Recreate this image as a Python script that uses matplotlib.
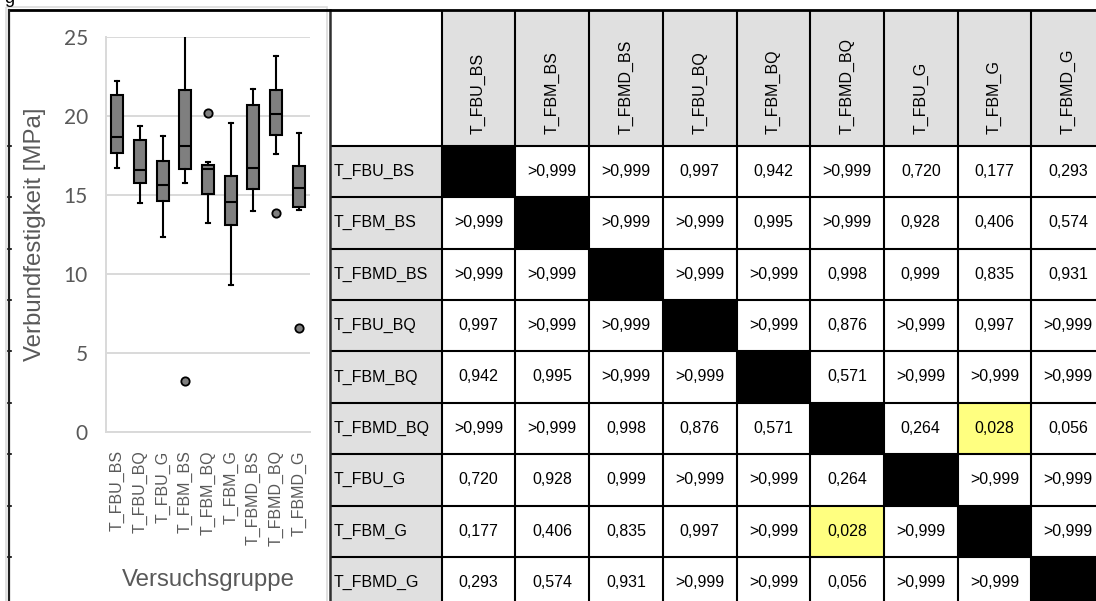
import matplotlib.pyplot as plt
from matplotlib.patches import Rectangle

W, H = 1096, 601

# Bond strength per test group (box plot statistics, MPa)
groups = ['T_FBU_BS', 'T_FBU_BQ', 'T_FBU_G', 'T_FBM_BS', 'T_FBM_BQ', 'T_FBM_G',
          'T_FBMD_BS', 'T_FBMD_BQ', 'T_FBMD_G']
whis_lo = [16.71, 14.53, 12.36, 15.78, 13.26, 9.31, 14.00, 17.60, 14.07]
q1 = [17.64, 15.78, 14.64, 16.65, 15.06, 13.09, 15.36, 18.81, 14.28]
median = [18.66, 16.59, 15.63, 18.09, 16.65, 14.55, 16.69, 20.16, 15.42]
q3 = [21.35, 18.51, 17.16, 21.62, 16.90, 16.23, 20.73, 21.64, 16.82]
whis_hi = [22.21, 19.36, 18.72, 25.22, 17.11, 19.55, 21.71, 23.78, 18.91]
outliers = [[], [], [], [3.24], [20.2], [], [], [13.9], [6.59]]

# Pairwise comparison table (p-values), diagonal left empty
pairs = ['T_FBU_BS', 'T_FBM_BS', 'T_FBMD_BS', 'T_FBU_BQ', 'T_FBM_BQ',
         'T_FBMD_BQ', 'T_FBU_G', 'T_FBM_G', 'T_FBMD_G']
p_values = [
    [None, '>0,999', '>0,999', '0,997', '0,942', '>0,999', '0,720', '0,177', '0,293'],
    ['>0,999', None, '>0,999', '>0,999', '0,995', '>0,999', '0,928', '0,406', '0,574'],
    ['>0,999', '>0,999', None, '>0,999', '>0,999', '0,998', '0,999', '0,835', '0,931'],
    ['0,997', '>0,999', '>0,999', None, '>0,999', '0,876', '>0,999', '0,997', '>0,999'],
    ['0,942', '0,995', '>0,999', '>0,999', None, '0,571', '>0,999', '>0,999', '>0,999'],
    ['>0,999', '>0,999', '0,998', '0,876', '0,571', None, '0,264', '0,028', '0,056'],
    ['0,720', '0,928', '0,999', '>0,999', '>0,999', '0,264', None, '>0,999', '>0,999'],
    ['0,177', '0,406', '0,835', '0,997', '>0,999', '0,028', '>0,999', None, '>0,999'],
    ['0,293', '0,574', '0,931', '>0,999', '>0,999', '0,056', '>0,999', '>0,999', None],
]
alpha = 0.05

grey_txt = '#595959'
grid_col = '#d9d9d9'
hdr_col = '#e0e0e0'
sig_col = '#ffff80'
sans = ['Liberation Sans', 'DejaVu Sans']

fig = plt.figure(figsize=(W / 100, H / 100), dpi=100)

# background layer in pixel coordinates: frames and the table
bg = fig.add_axes([0, 0, 1, 1])
bg.set_xlim(0, W)
bg.set_ylim(H, 0)
bg.axis('off')

# caption line above, only the descender of its first letter shows
bg.text(4, 3, 'g', fontsize=13, family=sans, va='baseline', ha='left', clip_on=True)

# picture frame of the chart
bg.add_patch(Rectangle((5.5, 7), 321.5, 600, fill=False, ec='#dcdcdc', lw=1.2))

x_tab, x_hdr, col_w = 330, 441.7, 73.7
y_top, y_hdr, row_h = 10, 145.7, 51.4
n = len(pairs)

bg.add_patch(Rectangle((x_hdr, y_top), W - x_hdr, y_hdr - y_top, fc=hdr_col, ec='none'))
bg.add_patch(Rectangle((x_tab, y_hdr), x_hdr - x_tab, H - y_hdr, fc=hdr_col, ec='none'))

for i in range(n):
    for j in range(n):
        val = p_values[i][j]
        if val is None:
            fc = 'black'
        elif not val.startswith('>') and float(val.replace(',', '.')) < alpha:
            fc = sig_col
        else:
            fc = 'white'
        x = x_hdr + j * col_w
        y = y_hdr + i * row_h
        bg.add_patch(Rectangle((x, y), col_w, row_h, fc=fc, ec='none'))
        if val is not None:
            bg.text(x + col_w / 2, y + row_h / 2, val, ha='center', va='center',
                    fontsize=11.5, family=sans, color='black')

for j, name in enumerate(pairs):
    bg.text(x_hdr + (j + 0.5) * col_w, 134, name, rotation=90, ha='center',
            va='bottom', fontsize=11.5, family=sans)
for i, name in enumerate(pairs):
    bg.text(333.5, y_hdr + (i + 0.5) * row_h, name, ha='left', va='center',
            fontsize=11.5, family=sans)

# table grid
for k in range(n + 1):
    yy = y_hdr + k * row_h
    bg.plot([x_tab, W], [yy, yy], color='black', lw=1.5, solid_capstyle='butt')
    bg.plot([8, 11], [yy, yy], color='black', lw=1.2)
for k in range(n + 1):
    xx = x_hdr + k * col_w
    bg.plot([xx, xx], [y_top, H], color='black', lw=1.5, solid_capstyle='butt')
bg.plot([x_tab, x_tab], [y_top, H], color='#303030', lw=1.8)
bg.plot([8, W], [y_top, y_top], color='black', lw=2.0, solid_capstyle='butt')
bg.plot([8.5, 8.5], [y_top, H], color='#202020', lw=1.6)

# box plot
ax_l, ax_r, ax_b, ax_t = 106, 310, 432.3, 37
ax = fig.add_axes([ax_l / W, (H - ax_b) / H, (ax_r - ax_l) / W, (ax_b - ax_t) / H])
ax.set_facecolor('none')

stats = []
for k, g in enumerate(groups):
    stats.append(dict(label=g, whislo=whis_lo[k], q1=q1[k], med=median[k],
                      q3=q3[k], whishi=whis_hi[k], fliers=outliers[k]))

pos = list(range(1, len(groups) + 1))
ax.bxp(stats, positions=pos, widths=0.54, patch_artist=True, capwidths=0.18,
       boxprops=dict(facecolor='#7f7f7f', edgecolor='black', linewidth=1.5),
       medianprops=dict(color='black', linewidth=1.5),
       whiskerprops=dict(color='black', linewidth=1.5),
       capprops=dict(color='black', linewidth=1.5),
       flierprops=dict(marker='o', markerfacecolor='#7f7f7f', markeredgecolor='black',
                       markersize=6, markeredgewidth=1.3))

ax.set_xlim(0.5, len(groups) + 0.5)
ax.set_ylim(0, 25)
ax.set_yticks([0, 5, 10, 15, 20, 25])
ax.yaxis.grid(True, color=grid_col, lw=1.4)
ax.set_axisbelow(True)
for s in ['top', 'right']:
    ax.spines[s].set_visible(False)
for s in ['left', 'bottom']:
    ax.spines[s].set_color(grid_col)
    ax.spines[s].set_linewidth(1.4)
ax.set_xticks(pos)
ax.set_xticklabels(groups, rotation=90, fontsize=11.5, family=sans, color=grey_txt)
ax.tick_params(axis='x', length=0, pad=13)
ax.tick_params(axis='y', length=0, pad=13, labelsize=15, labelcolor=grey_txt)
for t in ax.get_yticklabels():
    t.set_family(['Lato', 'DejaVu Sans'])

ax.set_ylabel('Verbundfestigkeit [MPa]', fontsize=17.3, family=sans, color=grey_txt,
              va='center')
ax.yaxis.set_label_coords((35 - ax_l) / (ax_r - ax_l), 0.5)
ax.set_xlabel('Versuchsgruppe', fontsize=17.3, family=sans, color=grey_txt, va='center')
ax.xaxis.set_label_coords((208 - ax_l) / (ax_r - ax_l), (ax_b - 580) / (ax_b - ax_t))

fig.savefig('out.png', dpi=100)
